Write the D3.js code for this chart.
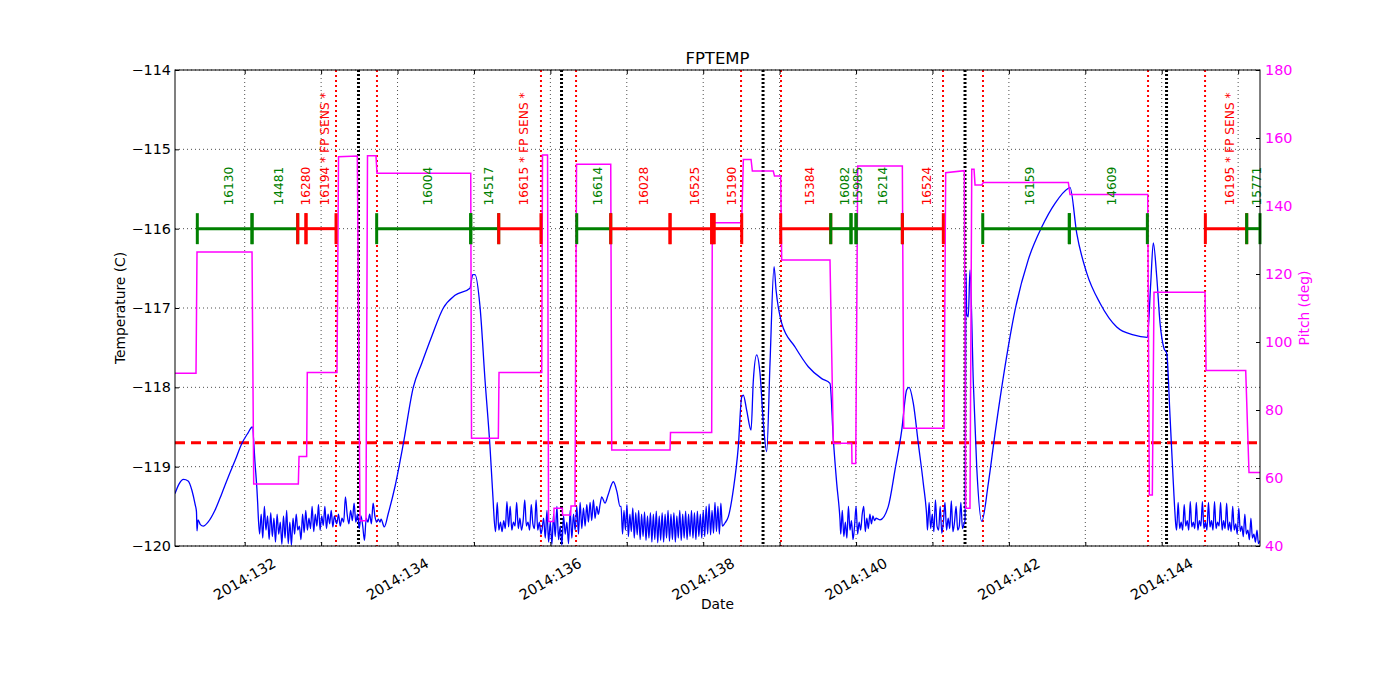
<!DOCTYPE html>
<html><head><meta charset="utf-8">
<script src="https://cdn.jsdelivr.net/npm/d3@7"></script>
<style>body{margin:0;background:#fff} text{font-family:"DejaVu Sans",sans-serif}</style>
</head><body><svg id="c" width="1400" height="700"></svg>
<script>
// ---------------- DATA ----------------
const xDomain = [131.088, 145.286];      // day of year 2014
const tempDomain = [-120, -114];
const pitchDomain = [40, 180];
const dayTicks = [132,133,134,135,136,137,138,139,140,141,142,143,144,145];
const dayTickLabels = ["2014:132","","2014:134","","2014:136","","2014:138","","2014:140","","2014:142","","2014:144",""];
const tempTicks = [-120,-119,-118,-117,-116,-115,-114];
const tempTickLabels = ["\u2212120","\u2212119","\u2212118","\u2212117","\u2212116","\u2212115","\u2212114"];
const pitchTicks = [40,60,80,100,120,140,160,180];
const tempLimit = -118.7;
const obsBarLevel = -116;
const radZoneLines = [133.195,133.731,135.877,136.336,138.495,139.018,141.138,141.661,143.821,144.567];
const perigeeLines = [133.489,136.146,138.783,141.426,144.063];

const obsStart = [131.380,132.096,132.694,132.802,133.727,134.958,135.324,136.345,136.790,137.566,138.111,138.141,139.014,139.669,139.934,140.000,140.606,141.658,142.791,144.571,145.112];
const obsEnd   = [132.096,132.694,132.802,133.195,134.958,135.324,135.877,136.790,137.566,138.111,138.141,138.504,139.669,139.934,140.000,140.606,141.142,142.791,143.812,145.112,145.286];
const obsLabel = ["16130","14481","16280","16194 * FP SENS *","16004","14517","16615 * FP SENS *","16614","16028","16525","","15190","15384","16082","15985","16214","16524","16159","14609","16195 * FP SENS *","15771"];
const obsType  = ["cold","cold","hot","hot","cold","cold","hot","cold","hot","hot","hot","hot","hot","cold","cold","cold","hot","cold","cold","hot","cold"];

// FPTEMP telemetry: smooth stretches [day, degC]
const tempA = [[131.088,-119.34],[131.140,-119.22],[131.200,-119.16],[131.260,-119.18],[131.310,-119.30],[131.350,-119.47],[131.369,-119.57],[131.376,-119.81],[131.389,-119.67],[131.420,-119.73],[131.458,-119.75],[131.520,-119.70],[131.611,-119.55],[131.700,-119.34],[131.785,-119.13],[131.875,-118.92],[131.961,-118.71],[132.040,-118.58],[132.100,-118.50],[132.135,-118.95],[132.170,-119.46]];
const tempB = [[133.784,-119.66],[133.827,-119.76],[133.879,-119.59],[133.967,-119.25],[134.076,-118.71],[134.206,-118.00],[134.316,-117.70],[134.447,-117.36],[134.599,-117.00],[134.752,-116.84],[134.948,-116.75],[134.984,-116.58],[135.014,-116.58],[135.079,-116.98],[135.145,-117.91],[135.210,-118.75],[135.253,-119.46]];
const tempC = [[136.672,-119.38],[136.715,-119.46],[136.754,-119.36],[136.824,-119.19],[136.872,-119.32],[136.911,-119.50]];
const tempD = [[138.285,-119.71],[138.329,-119.63],[138.394,-119.29],[138.459,-118.75],[138.504,-118.12],[138.525,-118.10],[138.569,-118.29],[138.626,-118.54],[138.656,-117.91],[138.700,-117.59],[138.743,-117.82],[138.787,-118.45],[138.831,-118.81],[138.874,-117.70],[138.927,-116.48],[138.953,-116.77],[139.027,-117.19],[139.201,-117.49],[139.375,-117.74],[139.551,-117.89],[139.659,-117.95],[139.703,-118.66],[139.747,-119.21],[139.790,-119.67]];
const tempE = [[140.314,-119.67],[140.422,-119.50],[140.510,-119.04],[140.598,-118.54],[140.663,-118.03],[140.693,-118.00],[140.749,-118.20],[140.815,-118.71],[140.880,-119.21],[140.925,-119.63]];
const tempF = [[141.426,-119.67],[141.439,-116.56],[141.448,-117.07],[141.469,-117.11],[141.491,-116.52],[141.535,-117.95],[141.579,-119.00],[141.645,-119.69],[141.731,-119.21],[141.819,-118.58],[141.949,-117.74],[142.080,-117.03],[142.254,-116.39],[142.430,-115.98],[142.604,-115.68],[142.778,-115.49],[142.800,-115.48],[142.888,-116.06],[143.019,-116.56],[143.193,-116.94],[143.411,-117.24],[143.629,-117.34],[143.812,-117.37],[143.856,-116.69],[143.890,-116.18],[143.935,-116.61],[143.978,-117.19],[144.030,-117.51],[144.065,-117.57],[144.109,-118.37],[144.152,-119.21],[144.187,-119.76]];

// noisy stretches: time span [start, end] and evenly sampled readings
const noise1Span = [132.174,133.195];
const noise1 = [-119.55,-119.85,-119.6,-119.9,-119.5,-119.8,-119.62,-119.92,-119.58,-119.88,-119.65,-119.95,-119.6,-119.85,-119.7,-119.98,-119.62,-119.9,-119.55,-119.97,-119.7,-119.99,-119.65,-119.85,-119.6,-119.8,-119.75,-119.92,-119.6,-119.83,-119.55,-119.8,-119.65,-119.78,-119.5,-119.82,-119.6,-119.75,-119.48,-119.8,-119.62,-119.74,-119.5,-119.78,-119.6,-119.72,-119.55,-119.76,-119.62,-119.7];
const noise2Span = [133.205,133.771];
const noise2 = [-119.72,-119.6,-119.75,-119.65,-119.7,-119.38,-119.6,-119.72,-119.55,-119.68,-119.46,-119.7,-119.6,-119.78,-119.62,-119.75,-119.93,-119.65,-119.7,-119.6,-119.72,-119.46,-119.62,-119.7,-119.66,-119.7];
const noise3Span = [135.262,135.877];
const noise3 = [-119.62,-119.82,-119.45,-119.8,-119.7,-119.82,-119.68,-119.78,-119.44,-119.76,-119.5,-119.8,-119.7,-119.75,-119.45,-119.78,-119.65,-119.8,-119.68,-119.42,-119.75,-119.7,-119.8,-119.48,-119.72,-119.78,-119.42,-119.8,-119.7,-119.85];
const noise4Span = [135.890,136.650];
const noise4 = [-119.8,-119.65,-119.9,-119.55,-119.95,-119.7,-119.98,-119.6,-119.88,-119.5,-119.92,-119.75,-119.99,-119.62,-119.85,-119.7,-119.97,-119.55,-119.9,-119.6,-119.8,-119.5,-119.85,-119.45,-119.78,-119.52,-119.75,-119.48,-119.7,-119.45,-119.68,-119.42,-119.65,-119.5,-119.6,-119.48];
const noise5Span = [136.925,138.250];
const noise5 = [-119.5,-119.85,-119.55,-119.8,-119.48,-119.88,-119.6,-119.82,-119.52,-119.9,-119.58,-119.86,-119.55,-119.92,-119.6,-119.88,-119.57,-119.93,-119.62,-119.9,-119.58,-119.95,-119.6,-119.92,-119.56,-119.96,-119.62,-119.93,-119.58,-119.95,-119.6,-119.9,-119.55,-119.94,-119.6,-119.92,-119.58,-119.95,-119.62,-119.9,-119.55,-119.93,-119.6,-119.9,-119.56,-119.92,-119.6,-119.88,-119.55,-119.9,-119.58,-119.92,-119.56,-119.88,-119.6,-119.9,-119.55,-119.88,-119.5,-119.85,-119.47,-119.86,-119.55,-119.84,-119.45,-119.82,-119.5,-119.85,-119.46,-119.75];
const noise6Span = [139.800,140.261];
const noise6 = [-119.85,-119.55,-119.88,-119.7,-119.9,-119.5,-119.8,-119.68,-119.92,-119.75,-119.5,-119.85,-119.7,-119.8,-119.6,-119.5,-119.82,-119.65,-119.78,-119.6,-119.72,-119.62,-119.68,-119.65];
const noise7Span = [140.935,141.413];
const noise7 = [-119.8,-119.45,-119.78,-119.6,-119.82,-119.42,-119.75,-119.8,-119.5,-119.84,-119.7,-119.45,-119.8,-119.65,-119.78,-119.43,-119.82,-119.7,-119.5,-119.8,-119.75,-119.45,-119.78,-119.72];
const noise8Span = [144.195,145.286];
const noise8 = [-119.8,-119.45,-119.78,-119.7,-119.8,-119.48,-119.75,-119.68,-119.8,-119.44,-119.76,-119.7,-119.78,-119.45,-119.8,-119.68,-119.75,-119.44,-119.78,-119.7,-119.8,-119.45,-119.76,-119.68,-119.8,-119.44,-119.78,-119.7,-119.75,-119.45,-119.8,-119.68,-119.78,-119.46,-119.8,-119.7,-119.82,-119.5,-119.8,-119.72,-119.85,-119.52,-119.82,-119.75,-119.88,-119.6,-119.85,-119.8,-119.92,-119.65,-119.9,-119.85,-119.95,-119.8,-119.97,-119.93];

// pitch telemetry [day, deg]
const pitch = [[131.088,90.8],[131.363,90.8],[131.376,126.5],[132.096,126.5],[132.118,58.2],[132.702,58.2],[132.711,66.3],[132.811,66.3],[132.819,91.0],[133.208,91.0],[133.228,154.5],[133.474,154.7],[133.509,47.4],[133.587,47.4],[133.607,154.8],[133.718,154.8],[133.731,149.6],[134.958,149.6],[134.968,71.7],[135.319,71.7],[135.328,91.0],[135.887,91.0],[135.897,155.0],[135.963,155.0],[135.976,47.2],[136.044,47.2],[136.048,51.1],[136.156,51.1],[136.160,49.1],[136.266,49.1],[136.270,51.8],[136.322,51.8],[136.342,152.3],[136.790,152.3],[136.803,68.2],[137.566,68.2],[137.572,73.4],[138.111,73.4],[138.119,135.1],[138.504,135.1],[138.525,153.7],[138.626,153.7],[138.643,150.3],[138.917,150.3],[138.933,148.8],[139.014,148.8],[139.027,124.1],[139.659,124.1],[139.703,70.2],[139.943,70.2],[139.947,64.3],[139.996,64.3],[140.022,151.8],[140.606,151.8],[140.624,74.6],[141.151,74.6],[141.173,149.8],[141.417,150.4],[141.435,51.1],[141.491,51.1],[141.514,150.8],[141.544,150.8],[141.557,146.2],[141.645,146.2],[141.666,146.9],[142.778,146.9],[142.800,143.4],[143.817,143.4],[143.838,55.0],[143.877,55.0],[143.899,114.6],[144.567,114.6],[144.580,91.6],[145.099,91.6],[145.142,61.6],[145.286,61.6]];

// ---------------- DRAW ----------------
function sampled(span, vals){
  const n = vals.length;
  return vals.map((v,i)=>[span[0] + (span[1]-span[0]) * i/(n-1), v]);
}
const temp = [].concat(
  tempA, sampled(noise1Span,noise1), sampled(noise2Span,noise2), tempB,
  sampled(noise3Span,noise3), sampled(noise4Span,noise4), tempC,
  sampled(noise5Span,noise5), tempD, sampled(noise6Span,noise6), tempE,
  sampled(noise7Span,noise7), tempF, sampled(noise8Span,noise8));

const L=175, R=1260, T=70, B=546;
const svg = d3.select("#c");
const x = d3.scaleLinear().domain(xDomain).range([L,R]);
const yT = d3.scaleLinear().domain(tempDomain).range([B,T]);
const yP = d3.scaleLinear().domain(pitchDomain).range([B,T]);
const obsColor = {cold:"#008000", hot:"#ff0000"};
const TICK_FS = "14.4px", LABEL_FS = "13.8px";

svg.append("defs").append("clipPath").attr("id","clip")
  .append("rect").attr("x",L).attr("y",T).attr("width",R-L).attr("height",B-T);

// grid
const grid = svg.append("g").attr("stroke","#000").attr("stroke-width",0.7).attr("stroke-dasharray","1,3");
grid.selectAll("line.v").data(dayTicks).join("line").attr("class","v")
  .attr("x1",d=>x(d)).attr("x2",d=>x(d)).attr("y1",T).attr("y2",B);
grid.selectAll("line.h").data(tempTicks).join("line").attr("class","h")
  .attr("x1",L).attr("x2",R).attr("y1",d=>yT(d)).attr("y2",d=>yT(d));

const plot = svg.append("g").attr("clip-path","url(#clip)");

// rad zone & perigee lines
plot.selectAll("line.rz").data(radZoneLines).join("line").attr("class","rz")
  .attr("x1",d=>x(d)).attr("x2",d=>x(d)).attr("y1",T).attr("y2",B)
  .attr("stroke","#ff0000").attr("stroke-width",2).attr("stroke-dasharray","2,3");
plot.selectAll("line.pg").data(perigeeLines).join("line").attr("class","pg")
  .attr("x1",d=>x(d)).attr("x2",d=>x(d)).attr("y1",T).attr("y2",B)
  .attr("stroke","#000").attr("stroke-width",3).attr("stroke-dasharray","2,2");

// limit line
plot.append("line").attr("x1",L).attr("x2",R).attr("y1",yT(tempLimit)).attr("y2",yT(tempLimit))
  .attr("stroke","#ff0000").attr("stroke-width",3).attr("stroke-dasharray","10,6");

// temperature
plot.append("path").datum(temp)
  .attr("d", d3.line().x(d=>x(d[0])).y(d=>yT(d[1])).curve(d3.curveMonotoneX))
  .attr("fill","none").attr("stroke","#0000ff").attr("stroke-width",1.3);

// observation bars
const bars = svg.append("g");
obsStart.forEach((s,i)=>{
  const c = obsColor[obsType[i]], yb = yT(obsBarLevel);
  bars.append("line").attr("x1",x(s)).attr("x2",x(obsEnd[i])).attr("y1",yb).attr("y2",yb)
    .attr("stroke",c).attr("stroke-width",3);
  [s, obsEnd[i]].forEach(e=>{
    bars.append("line").attr("x1",x(e)).attr("x2",x(e)).attr("y1",yb-15.5).attr("y2",yb+15.5)
      .attr("stroke",c).attr("stroke-width",3);
  });
  if (obsLabel[i]) {
    const cx = (x(s)+x(obsEnd[i]))/2 + 4;
    bars.append("text").attr("transform",`translate(${cx},205.5) rotate(-90)`)
      .attr("dominant-baseline","central").attr("font-size","12.2px").attr("fill",c).text(obsLabel[i]);
  }
});

// pitch
plot.append("path").datum(pitch)
  .attr("d", d3.line().x(d=>x(d[0])).y(d=>yP(d[1])))
  .attr("fill","none").attr("stroke","#ff00ff").attr("stroke-width",1.5);

// frame
svg.append("rect").attr("x",L).attr("y",T).attr("width",R-L).attr("height",B-T)
  .attr("fill","none").attr("stroke","#000").attr("stroke-width",1);

// axes
function styleAxis(g){ g.select(".domain").remove(); g.selectAll("text").attr("font-size",TICK_FS).attr("font-family","DejaVu Sans"); }
svg.append("g").attr("transform",`translate(0,${B})`)
  .call(d3.axisBottom(x).tickValues(dayTicks).tickSize(-4).tickFormat("")).call(styleAxis);
svg.append("g").attr("transform",`translate(0,${T})`)
  .call(d3.axisTop(x).tickValues(dayTicks).tickSize(-4).tickFormat("")).call(styleAxis);
svg.append("g").attr("transform",`translate(${L},0)`)
  .call(d3.axisLeft(yT).tickValues(tempTicks).tickSize(-4).tickPadding(4).tickFormat((d,i)=>tempTickLabels[i])).call(styleAxis);
const ra = svg.append("g").attr("transform",`translate(${R},0)`)
  .call(d3.axisRight(yP).tickValues(pitchTicks).tickSize(-4).tickPadding(5)).call(styleAxis);
ra.selectAll("text").attr("fill","#ff00ff");

// x tick labels (rotated)
svg.append("g").selectAll("text").data(dayTicks.map((d,i)=>[d,dayTickLabels[i]]).filter(p=>p[1])).join("text")
  .attr("transform",p=>`translate(${x(p[0])},579) rotate(-30)`)
  .attr("text-anchor","middle").attr("dominant-baseline","central")
  .attr("font-size",TICK_FS).text(p=>p[1]);

// titles
svg.append("text").attr("x",(L+R)/2).attr("y",64).attr("text-anchor","middle").attr("font-size","16.5px").text("FPTEMP");
svg.append("text").attr("x",(L+R)/2).attr("y",609).attr("text-anchor","middle").attr("font-size",LABEL_FS).text("Date");
svg.append("text").attr("transform",`translate(119.5,${(T+B)/2}) rotate(-90)`).attr("text-anchor","middle")
  .attr("dominant-baseline","central").attr("font-size",LABEL_FS).text("Temperature (C)");
svg.append("text").attr("transform",`translate(1303.5,${(T+B)/2}) rotate(-90)`).attr("text-anchor","middle")
  .attr("dominant-baseline","central").attr("font-size",LABEL_FS).attr("fill","#ff00ff").text("Pitch (deg)");
</script></body></html>
